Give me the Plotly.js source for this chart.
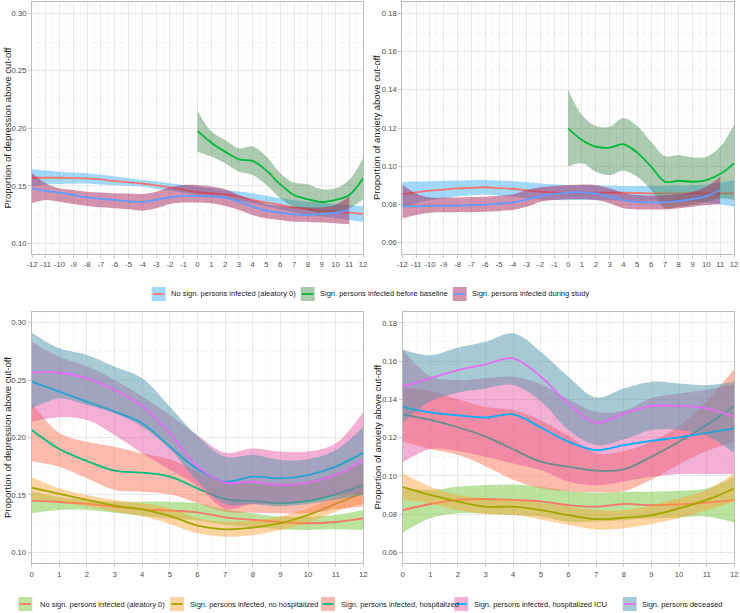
<!DOCTYPE html>
<html><head><meta charset="utf-8">
<script src="https://cdn.plot.ly/plotly-3.0.1.min.js"></script>
<style>html,body{margin:0;padding:0;background:#fff;} #chart{width:740px;height:613px;}</style>
</head><body><div id="chart"></div>
<script>
// ---------- DATA ----------
const xMonthsAll = [-12,-11,-10,-9,-8,-7,-6,-5,-4,-3,-2,-1,0,1,2,3,4,5,6,7,8,9,10,11,12];
const xMonthsDuring = [-12,-11,-10,-9,-8,-7,-6,-5,-4,-3,-2,-1,0,1,2,3,4,5,6,7,8,9,10,11];
const xMonthsBase = [0,1,2,3,4,5,6,7,8,9,10,11,12];
const xTickLabelsTop = ['-12','-11','-10','-9','-8','-7','-6','-5','-4','-3','-2','-1','0','1','2','3','4','5','6','7','8','9','10','11','12'];
const xTickLabelsBottom = ['0','1','2','3','4','5','6','7','8','9','10','11','12'];

const topGroups = ["No sign. persons infected (aleatory 0)", "Sign. persons infected before baseline", "Sign. persons infected during study"];
const bottomGroups = ["No sign. persons infected (aleatory 0)", "Sign. persons infected, no hospitalized", "Sign. persons infected, hospitalized", "Sign. persons infected, hospitalized ICU", "Sign. persons deceased"];

// Top-left: depression
const tlNoSignFit = [0.157,0.157,0.157,0.1567,0.1565,0.1555,0.154,0.1530,0.1520,0.1503,0.1487,0.1465,0.1444,0.1435,0.1426,0.1406,0.1377,0.1354,0.1333,0.1313,0.1296,0.1284,0.1275,0.1267,0.1255];
const tlNoSignHi = [0.1645,0.1632,0.1623,0.1616,0.1609,0.1595,0.158,0.1566,0.1551,0.1537,0.1522,0.1507,0.1493,0.1478,0.1464,0.145,0.1435,0.1413,0.1391,0.1377,0.1362,0.1352,0.1342,0.1333,0.1325];
const tlNoSignLo = [0.1500,0.1512,0.1516,0.1518,0.152,0.1512,0.1504,0.1499,0.1493,0.1475,0.1458,0.1439,0.142,0.1403,0.1386,0.1367,0.1348,0.1322,0.1296,0.1271,0.1246,0.1232,0.1217,0.1203,0.1188];
const tlBeforeFit = [0.1977,0.1875,0.1797,0.1730,0.1716,0.1632,0.1513,0.1420,0.1383,0.1359,0.1377,0.1420,0.1565];
const tlBeforeHi = [0.2154,0.1971,0.1899,0.1826,0.1841,0.1754,0.1609,0.1528,0.1513,0.1470,0.1478,0.1551,0.1739];
const tlBeforeLo = [0.1797,0.1754,0.1696,0.1623,0.1594,0.1507,0.1391,0.1319,0.1290,0.1255,0.1267,0.1304,0.1383];
const tlDuringFit = [0.1478,0.1455,0.144,0.142,0.140,0.1386,0.1377,0.1365,0.1360,0.1377,0.1400,0.1412,0.1412,0.1406,0.1397,0.1362,0.1319,0.1284,0.1267,0.1252,0.1246,0.1255,0.1267,0.1290];
const tlDuringHi = [0.161,0.1522,0.1478,0.1464,0.1449,0.1441,0.1435,0.1432,0.1429,0.1449,0.1487,0.1507,0.1507,0.1493,0.147,0.142,0.1377,0.1342,0.1325,0.1319,0.1313,0.1313,0.1333,0.1406];
const tlDuringLo = [0.1350,0.1377,0.1362,0.1342,0.1325,0.1313,0.1304,0.1296,0.1284,0.1304,0.1342,0.1354,0.1354,0.1348,0.1325,0.129,0.1246,0.1217,0.1203,0.1188,0.1186,0.118,0.1174,0.1165];

// Top-right: anxiety
const trNoSignFit = [0.0853,0.0863,0.0872,0.0878,0.0884,0.0887,0.0890,0.0886,0.0881,0.0874,0.0867,0.0864,0.0862,0.0862,0.0862,0.0862,0.0862,0.0860,0.0858,0.0858,0.0858,0.0858,0.0858,0.0858,0.0858];
const trNoSignHi = [0.0919,0.0920,0.0922,0.0924,0.0925,0.0927,0.0928,0.0926,0.0922,0.0916,0.0910,0.0906,0.0902,0.0900,0.0899,0.0898,0.0897,0.0897,0.0897,0.0898,0.0899,0.0901,0.0905,0.0913,0.0928];
const trNoSignLo = [0.0787,0.0805,0.0822,0.0833,0.0843,0.0848,0.0852,0.0847,0.0840,0.0832,0.0826,0.0824,0.0822,0.0823,0.0824,0.0822,0.0820,0.0819,0.0819,0.0818,0.0817,0.0815,0.0810,0.0802,0.0788];
const trBeforeFit = [0.1198,0.1137,0.1102,0.1097,0.1115,0.1071,0.0998,0.0919,0.0924,0.0919,0.0928,0.0959,0.1015];
const trBeforeHi = [0.1399,0.1268,0.1210,0.1207,0.1251,0.1210,0.1128,0.1053,0.1059,0.1046,0.1050,0.1102,0.1216];
const trBeforeLo = [0.0998,0.1015,0.0971,0.0954,0.0977,0.0945,0.0876,0.0780,0.0788,0.0797,0.0814,0.0832,0.0823];
const trDuringFit = [0.0790,0.0790,0.0792,0.0793,0.0794,0.0796,0.0799,0.0805,0.0811,0.0826,0.0844,0.0855,0.0862,0.0863,0.0858,0.0841,0.0823,0.0813,0.0811,0.0811,0.0818,0.0828,0.0844,0.0876];
const trDuringHi = [0.0905,0.0858,0.0837,0.0837,0.0837,0.0839,0.0841,0.0846,0.0853,0.0876,0.0890,0.0896,0.0902,0.0905,0.0902,0.0884,0.0862,0.0849,0.0846,0.0848,0.0853,0.0867,0.0893,0.0945];
const trDuringLo = [0.0727,0.0745,0.0757,0.0759,0.0760,0.0760,0.0762,0.0766,0.0771,0.0788,0.0814,0.0823,0.0827,0.0827,0.0823,0.0806,0.0780,0.0774,0.0774,0.0774,0.0780,0.0788,0.0797,0.0802];

// Bottom-left: depression by severity
const blNoSignFit = [0.1450,0.1438,0.1421,0.1398,0.1374,0.1363,0.1348,0.1305,0.1282,0.1264,0.1253,0.1264,0.1295];
const blNoSignHi = [0.1530,0.1480,0.1456,0.1441,0.1441,0.1441,0.1427,0.1374,0.1340,0.1311,0.1311,0.1325,0.1369];
const blNoSignLo = [0.1340,0.1369,0.1369,0.1345,0.1316,0.1296,0.1276,0.1238,0.1218,0.1200,0.1194,0.1200,0.1194];
const blNoHospFit = [0.1563,0.1508,0.1456,0.1406,0.1374,0.1317,0.1232,0.1200,0.1215,0.1253,0.1325,0.1421,0.1520];
const blNoHospHi = [0.1653,0.1557,0.1499,0.1456,0.1427,0.1383,0.1296,0.1267,0.1276,0.1311,0.1383,0.1485,0.1630];
const blNoHospLo = [0.1462,0.1441,0.1404,0.1354,0.1317,0.1247,0.1165,0.1136,0.1151,0.1195,0.1258,0.1354,0.1427];
const blHospFit = [0.2065,0.1900,0.1795,0.1711,0.1694,0.1659,0.1557,0.1464,0.1447,0.1427,0.1447,0.1505,0.1586];
const blHospHi = [0.2300,0.2040,0.1964,0.1920,0.1863,0.1810,0.1700,0.1610,0.1600,0.1600,0.1620,0.1690,0.1775];
const blHospLo = [0.1790,0.1746,0.1644,0.1543,0.1528,0.1505,0.1427,0.1354,0.1345,0.1340,0.1340,0.1374,0.1398];
const blIcuFit = [0.2487,0.2399,0.2312,0.2225,0.2124,0.1920,0.1725,0.1615,0.1659,0.1644,0.1673,0.1746,0.1868];
const blIcuHi = [0.2835,0.2704,0.2620,0.2500,0.2356,0.2196,0.2020,0.1868,0.1905,0.1877,0.1877,0.1950,0.2225];
const blIcuLo = [0.2138,0.2176,0.2153,0.2022,0.1863,0.1720,0.1580,0.1380,0.1420,0.1420,0.1450,0.1500,0.1510];
const blDecFit = [0.2567,0.2564,0.2515,0.2414,0.2274,0.2036,0.1746,0.1607,0.1615,0.1586,0.1607,0.1673,0.1804];
const blDecHi = [0.2913,0.2777,0.2719,0.2617,0.2516,0.2268,0.2010,0.1833,0.1848,0.1804,0.1810,0.1891,0.2094];
const blDecLo = [0.2250,0.2340,0.2283,0.2211,0.2094,0.1900,0.1620,0.1420,0.1420,0.1400,0.1420,0.1460,0.1500];

// Bottom-right: anxiety by severity
const brNoSignFit = [0.0821,0.0853,0.0874,0.0879,0.0874,0.0867,0.0847,0.0839,0.0853,0.0847,0.0851,0.0860,0.0874];
const brNoSignHi = [0.0940,0.0926,0.0943,0.0952,0.0955,0.0943,0.0922,0.0912,0.0917,0.0917,0.0922,0.0934,0.0996];
const brNoSignLo = [0.0703,0.0778,0.0804,0.0804,0.0795,0.0787,0.0760,0.0760,0.0769,0.0778,0.0783,0.0787,0.0755];
const brNoHospFit = [0.0943,0.0900,0.0865,0.0839,0.0839,0.0821,0.0795,0.0774,0.0781,0.0795,0.0830,0.0874,0.0934];
const brNoHospHi = [0.1016,0.0943,0.0900,0.0882,0.0877,0.0860,0.0839,0.0821,0.0821,0.0847,0.0882,0.0926,0.1013];
const brNoHospLo = [0.0877,0.0856,0.0821,0.0800,0.0795,0.0772,0.0743,0.0720,0.0725,0.0748,0.0778,0.0821,0.0865];
const brHospFit = [0.1321,0.1292,0.1254,0.1205,0.1139,0.1074,0.1048,0.1027,0.1034,0.1100,0.1178,0.1266,0.1365];
const brHospHi = [0.1460,0.1445,0.1400,0.1360,0.1344,0.1290,0.1210,0.1118,0.1130,0.1178,0.1260,0.1390,0.1560];
const brHospLo = [0.1180,0.1140,0.1110,0.1050,0.0980,0.0935,0.0920,0.0915,0.0920,0.0980,0.1060,0.1130,0.1180];
const brIcuFit = [0.1361,0.1332,0.1316,0.1305,0.1321,0.1253,0.1178,0.1135,0.1161,0.1183,0.1201,0.1225,0.1248];
const brIcuHi = [0.1660,0.1520,0.1500,0.1510,0.1518,0.1480,0.1400,0.1335,0.1340,0.1405,0.1430,0.1450,0.1480];
const brIcuLo = [0.1070,0.1140,0.1130,0.1100,0.1065,0.1030,0.0970,0.0950,0.0970,0.0995,0.1010,0.1010,0.1010];
const brDecFit = [0.1466,0.1510,0.1553,0.1583,0.1614,0.1518,0.1379,0.1278,0.1327,0.1365,0.1365,0.1353,0.1309];
const brDecHi = [0.1661,0.1631,0.1671,0.1701,0.1745,0.1649,0.1518,0.1410,0.1457,0.1492,0.1483,0.1474,0.1492];
const brDecLo = [0.1275,0.1390,0.1435,0.1457,0.1475,0.1390,0.1240,0.1161,0.1190,0.1240,0.1240,0.1210,0.1120];

// ---------- STYLE ----------
const F = '"Liberation Sans", Arial, Helvetica, sans-serif';
const topLine = ['#F8766D', '#00BA38', '#619CFF'];
const topFill = ['rgba(100,190,250,0.6)', 'rgba(70,140,80,0.45)', 'rgba(170,40,90,0.5)'];
const botLine = ['#F8766D', '#A3A500', '#00BF7D', '#00B0F6', '#E76BF3'];
const botFill = ['rgba(120,200,60,0.5)', 'rgba(255,160,50,0.45)', 'rgba(250,120,90,0.5)', 'rgba(230,80,160,0.45)', 'rgba(80,150,170,0.5)'];

function smooth(x, lo, hi, fit, fill, color, name, xa, ya) {
  const base = {x: x, xaxis: xa, yaxis: ya, mode: 'lines', hoverinfo: 'skip', showlegend: false, type: 'scatter'};
  return [
    Object.assign({}, base, {y: hi, line: {width: 0, shape: 'spline', smoothing: 1}}),
    Object.assign({}, base, {y: lo, fill: 'tonexty', fillcolor: fill, line: {width: 0, shape: 'spline', smoothing: 1}}),
    Object.assign({}, base, {y: fit, name: name, hoverinfo: 'x+y+name', line: {width: 1.8, color: color, shape: 'spline', smoothing: 1}})
  ];
}

let traces = [];
traces = traces.concat(
  smooth(xMonthsAll, tlNoSignLo, tlNoSignHi, tlNoSignFit, topFill[0], topLine[0], topGroups[0], 'x', 'y'),
  smooth(xMonthsBase, tlBeforeLo, tlBeforeHi, tlBeforeFit, topFill[1], topLine[1], topGroups[1], 'x', 'y'),
  smooth(xMonthsDuring, tlDuringLo, tlDuringHi, tlDuringFit, topFill[2], topLine[2], topGroups[2], 'x', 'y'),
  smooth(xMonthsAll, trNoSignLo, trNoSignHi, trNoSignFit, topFill[0], topLine[0], topGroups[0], 'x2', 'y2'),
  smooth(xMonthsBase, trBeforeLo, trBeforeHi, trBeforeFit, topFill[1], topLine[1], topGroups[1], 'x2', 'y2'),
  smooth(xMonthsDuring, trDuringLo, trDuringHi, trDuringFit, topFill[2], topLine[2], topGroups[2], 'x2', 'y2'),
  smooth(xMonthsBase, blNoSignLo, blNoSignHi, blNoSignFit, botFill[0], botLine[0], bottomGroups[0], 'x3', 'y3'),
  smooth(xMonthsBase, blNoHospLo, blNoHospHi, blNoHospFit, botFill[1], botLine[1], bottomGroups[1], 'x3', 'y3'),
  smooth(xMonthsBase, blHospLo, blHospHi, blHospFit, botFill[2], botLine[2], bottomGroups[2], 'x3', 'y3'),
  smooth(xMonthsBase, blIcuLo, blIcuHi, blIcuFit, botFill[3], botLine[3], bottomGroups[3], 'x3', 'y3'),
  smooth(xMonthsBase, blDecLo, blDecHi, blDecFit, botFill[4], botLine[4], bottomGroups[4], 'x3', 'y3'),
  smooth(xMonthsBase, brNoSignLo, brNoSignHi, brNoSignFit, botFill[0], botLine[0], bottomGroups[0], 'x4', 'y4'),
  smooth(xMonthsBase, brNoHospLo, brNoHospHi, brNoHospFit, botFill[1], botLine[1], bottomGroups[1], 'x4', 'y4'),
  smooth(xMonthsBase, brHospLo, brHospHi, brHospFit, botFill[2], botLine[2], bottomGroups[2], 'x4', 'y4'),
  smooth(xMonthsBase, brIcuLo, brIcuHi, brIcuFit, botFill[3], botLine[3], bottomGroups[3], 'x4', 'y4'),
  smooth(xMonthsBase, brDecLo, brDecHi, brDecFit, botFill[4], botLine[4], bottomGroups[4], 'x4', 'y4')
);

// ---------- LAYOUT ----------
const W = 740, H = 613;
const px = v => v / W, py = v => 1 - v / H;
const gridMajor = '#e4e4e4', gridMinor = '#f1f1f1', frame = '#bdbdbd';
const tickFont = {family: F, size: 7.7, color: '#4d4d4d'};

function xax(domain, range, anchor, vals, labels) {
  return {domain: domain, range: range, anchor: anchor, tickmode: 'array', tickvals: vals, ticktext: labels, tickangle: 0,
    showgrid: true, gridcolor: gridMajor, gridwidth: 0.8,
    minor: {dtick: 0.5, tick0: 0, showgrid: true, gridcolor: gridMinor, gridwidth: 0.5, ticks: ''},
    zeroline: false, showline: true, mirror: true, linecolor: frame, linewidth: 1,
    ticks: 'outside', ticklen: 3, tickcolor: frame, tickwidth: 0.8, tickfont: tickFont, fixedrange: true};
}
function yax(domain, range, anchor, dt, mdt) {
  return {domain: domain, range: range, anchor: anchor, tickmode: 'linear', tick0: 0, dtick: dt, tickformat: '.2f',
    showgrid: true, gridcolor: gridMajor, gridwidth: 0.8,
    minor: {dtick: mdt, tick0: 0, showgrid: true, gridcolor: gridMinor, gridwidth: 0.5, ticks: ''},
    zeroline: false, showline: true, mirror: true, linecolor: frame, linewidth: 1,
    ticks: 'outside', ticklen: 3, tickcolor: frame, tickwidth: 0.8, tickfont: tickFont, fixedrange: true};
}

const shapes = [], annotations = [];
function legendRow(labels, fills, lines, boxLefts, textLefts, cy) {
  labels.forEach((lab, i) => {
    const b = boxLefts[i];
    shapes.push({type: 'rect', xref: 'paper', yref: 'paper', x0: px(b), x1: px(b + 14), y0: py(cy + 7), y1: py(cy - 7),
      fillcolor: fills[i], line: {width: 0}, layer: 'above'});
    shapes.push({type: 'line', xref: 'paper', yref: 'paper', x0: px(b + 1.2), x1: px(b + 12.8), y0: py(cy), y1: py(cy),
      line: {color: lines[i], width: 1.8}, layer: 'above'});
    annotations.push({xref: 'paper', yref: 'paper', x: px(textLefts[i] - 1.5), y: py(cy), xanchor: 'left', yanchor: 'middle',
      text: lab, showarrow: false, font: {family: F, size: 7.5, color: '#222'}});
  });
}
legendRow(topGroups, topFill, topLine, [151.7, 300.7, 452.7], [170.7, 319.3, 471.7], 294);
legendRow(bottomGroups, botFill, botLine, [18.3, 170, 321, 454.3, 622.7], [39.3, 189, 340.7, 473.3, 641.7], 604);

function ytitle(text, xc, yc) {
  annotations.push({xref: 'paper', yref: 'paper', x: px(xc), y: py(yc), xanchor: 'center', yanchor: 'middle',
    text: text, textangle: -90, showarrow: false, font: {family: F, size: 9.5, color: '#1a1a1a'}});
}
ytitle('Proportion of depression above cut-off', 7.5, 128);
ytitle('Proportion of anxiety above cut-off', 377, 128);
ytitle('Proportion of depression above cut-off', 7.5, 437.5);
ytitle('Proportion of anxiety above cut-off', 377, 437.5);

const layout = {
  width: W, height: H, margin: {l: 0, r: 0, t: 0, b: 0}, paper_bgcolor: '#fff', plot_bgcolor: '#fff',
  showlegend: false, font: {family: F}, hovermode: 'closest',
  xaxis: xax([px(32), px(363)], [-12, 12], 'y', xMonthsAll, xTickLabelsTop),
  yaxis: yax([py(254), py(2)], [0.0907, 0.3098], 'x', 0.05, 0.025),
  xaxis2: xax([px(402.3), px(734)], [-12, 12], 'y2', xMonthsAll, xTickLabelsTop),
  yaxis2: yax([py(254), py(2)], [0.0541, 0.1859], 'x2', 0.02, 0.01),
  xaxis3: xax([px(31.7), px(363.3)], [0, 12], 'y3', xMonthsBase, xTickLabelsBottom),
  yaxis3: yax([py(563.3), py(311.7)], [0.0904, 0.3096], 'x3', 0.05, 0.025),
  xaxis4: xax([px(402.7), px(734.3)], [0, 12], 'y4', xMonthsBase, xTickLabelsBottom),
  yaxis4: yax([py(563.3), py(311.7)], [0.0543, 0.1858], 'x4', 0.02, 0.01),
  shapes: shapes, annotations: annotations
};

Plotly.newPlot('chart', traces, layout, {displayModeBar: false, staticPlot: true});
</script></body></html>
